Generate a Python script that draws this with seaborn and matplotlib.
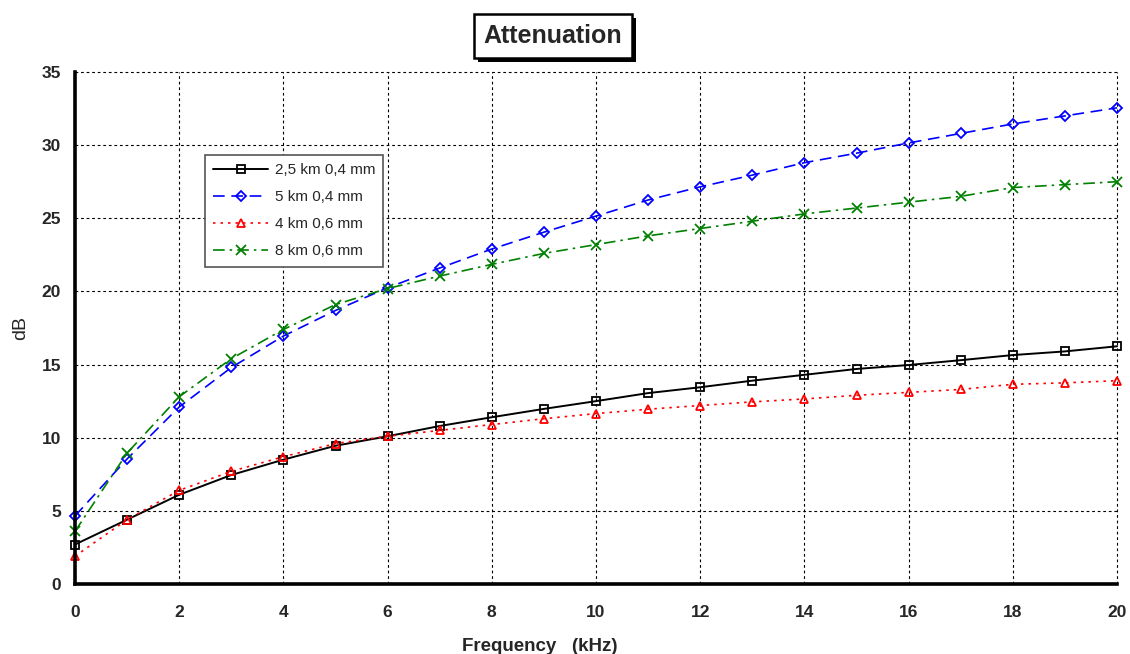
import pandas as pd
import matplotlib
matplotlib.use("Agg")
import matplotlib.pyplot as plt
import matplotlib.patheffects as pe
import seaborn as sns

# Dati
freq_khz = list(range(0, 21))
att_25km_04 = [2.7, 4.4, 6.1, 7.45, 8.5, 9.45, 10.1, 10.8, 11.4, 11.97, 12.5,
               13.05, 13.45, 13.9, 14.3, 14.7, 14.97, 15.3, 15.65, 15.9, 16.25]
att_5km_04 = [4.65, 8.55, 12.1, 14.8, 16.95, 18.7, 20.25, 21.6, 22.9, 24.05, 25.15,
              26.25, 27.15, 27.95, 28.8, 29.45, 30.15, 30.8, 31.45, 32.0, 32.55]
att_4km_06 = [1.9, 4.4, 6.4, 7.7, 8.7, 9.6, 10.1, 10.5, 10.9, 11.3, 11.65,
              11.95, 12.2, 12.45, 12.65, 12.9, 13.1, 13.3, 13.65, 13.75, 13.9]
att_8km_06 = [3.6, 8.95, 12.8, 15.4, 17.4, 19.1, 20.2, 21.05, 21.85, 22.6, 23.2,
              23.8, 24.3, 24.8, 25.3, 25.7, 26.1, 26.5, 27.1, 27.3, 27.5]
etichette = ['2,5 km 0,4 mm', '5 km 0,4 mm', '4 km 0,6 mm', '8 km 0,6 mm']

sns.set_style("white")
plt.rcParams['font.family'] = ['Liberation Sans', 'DejaVu Sans']

fig = plt.figure(figsize=(11.3, 6.54), dpi=100)
ax = fig.add_axes([75 / 1130, 1 - 584 / 654, 1042 / 1130, 512 / 654])

serie = [att_25km_04, att_5km_04, att_4km_06, att_8km_06]
stili = [
    dict(color='black', linestyle='-', marker='s', markersize=5.5, lw=1.4),
    dict(color='#0000ff', linestyle=(0, (7, 4)), marker='D', markersize=4.8, lw=1.2),
    dict(color='#ff0000', linestyle=(0, (1.5, 3)), marker='^', markersize=6, lw=1.2),
    dict(color='#008000', linestyle=(0, (7, 3, 1.5, 3)), marker='x', markersize=7, lw=1.2),
]
for vals, lab, st in zip(serie, etichette, stili):
    sns.lineplot(x=freq_khz, y=vals, ax=ax, label=lab, clip_on=False, zorder=3,
                 markerfacecolor='none', markeredgecolor=st['color'],
                 markeredgewidth=1.3, **st)

ax.set_xlim(0, 20)
ax.set_ylim(0, 35)
ax.set_xticks(range(0, 21, 2))
ax.set_yticks(range(0, 36, 5))
ax.grid(True, color='black', linestyle=(0, (2.5, 2.5)), linewidth=0.8)
for g in ax.get_xgridlines() + ax.get_ygridlines():
    g.set_clip_on(False)
for lab in ax.get_xticklabels() + ax.get_yticklabels():
    lab.set_fontweight('bold')
    lab.set_fontsize(12.5)
ax.tick_params(axis='x', length=0, pad=15)
ax.tick_params(axis='y', length=0, pad=10)

for s in ['top', 'right']:
    ax.spines[s].set_visible(False)
for s in ['left', 'bottom']:
    ax.spines[s].set_linewidth(2.6)
    ax.spines[s].set_color('black')
    ax.spines[s].set_zorder(4)

ax.set_xlabel('Frequency   (kHz)', fontsize=13.5, fontweight='bold',
              family=['Liberation Sans Narrow', 'Liberation Sans', 'DejaVu Sans'])
ax.xaxis.set_label_coords((540 - 75) / 1042, -0.105)
ax.set_ylabel('dB', fontsize=14)
ax.yaxis.set_label_coords(-0.044, 0.5)

leg = ax.legend(loc='upper left', bbox_to_anchor=(205 / 1130, 1 - 155 / 654),
                bbox_transform=fig.transFigure, borderaxespad=0,
                fancybox=False, framealpha=1,
                edgecolor='#555555', fontsize=11, handlelength=3.6,
                labelspacing=0.85, borderpad=0.55, handletextpad=0.4)
leg.get_frame().set_linewidth(1.2)

t = fig.text(553 / 1130, 1 - 36 / 654, 'Attenuation', ha='center', va='center',
             fontsize=18, fontweight='bold',
             bbox=dict(boxstyle='square,pad=0.4', facecolor='white',
                       edgecolor='black', linewidth=1.8))
t.get_bbox_patch().set_path_effects([
    pe.SimplePatchShadow(offset=(3, -3), shadow_rgbFace='black', alpha=1),
    pe.Normal()])

fig.savefig('out.png', dpi=100)
